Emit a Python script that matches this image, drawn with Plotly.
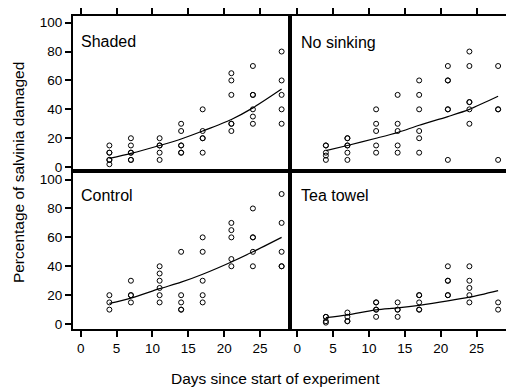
import plotly.graph_objects as go

# ---------------- data ----------------
shaded_day = [4]*6 + [7]*6 + [11]*5 + [14]*6 + [17]*5 + [21]*6 + [24]*6 + [28]*5
shaded_pct = [15, 10, 10, 5, 5, 2,
              20, 15, 10, 10, 5, 5,
              20, 15, 15, 10, 5,
              30, 25, 15, 15, 10, 10,
              40, 25, 20, 20, 10,
              65, 60, 50, 30, 30, 25,
              70, 50, 50, 40, 35, 30,
              80, 60, 50, 40, 30]

nosink_day = [4]*5 + [7]*6 + [11]*5 + [14]*5 + [17]*6 + [21]*6 + [24]*6 + [28]*4
nosink_pct = [15, 15, 10, 8, 5,
              20, 20, 15, 15, 10, 5,
              40, 30, 25, 15, 10,
              50, 30, 25, 15, 10,
              60, 50, 40, 25, 20, 10,
              70, 60, 60, 40, 40, 5,
              80, 70, 45, 45, 40, 30,
              70, 40, 40, 5]

control_day = [4]*3 + [7]*4 + [11]*6 + [14]*5 + [17]*5 + [21]*5 + [24]*5 + [28]*5
control_pct = [20, 15, 10,
               30, 20, 20, 15,
               40, 35, 30, 25, 20, 15,
               50, 20, 15, 10, 10,
               60, 50, 30, 20, 15,
               70, 65, 60, 45, 40,
               80, 60, 60, 50, 40,
               90, 70, 50, 40, 40]

tea_day = [4]*4 + [7]*4 + [11]*5 + [14]*4 + [17]*5 + [21]*5 + [24]*5 + [28]*2
tea_pct = [5, 5, 2, 1,
           8, 5, 2, 2,
           15, 15, 10, 10, 5,
           15, 10, 10, 5,
           20, 20, 15, 10, 10,
           40, 30, 30, 20, 20,
           40, 30, 25, 20, 15,
           15, 10]

fit_days = [4, 7, 11, 14, 17, 21, 24, 28]
shaded_fit = [6, 9.5, 15, 19.5, 25, 33, 41, 54]
nosink_fit = [11.4, 15, 20, 24, 29, 35, 40, 49]
control_fit = [14.3, 18, 24.5, 29, 34.5, 43, 50, 60]
tea_fit = [4.5, 6.4, 9.8, 11.2, 13, 16, 18.6, 23.2]

panel_names = ["Shaded", "No sinking", "Control", "Tea towel"]
x_ticks = [0, 5, 10, 15, 20, 25]
y_ticks = [0, 20, 40, 60, 80, 100]

# ---------------- figure ----------------
FONT = "Liberation Sans, Arial, Helvetica, sans-serif"
W, H = 506, 380
ML, MR, MT, MB = 65, 7, 2, 59
PW, PH = W - ML - MR, H - MT - MB

fig = go.Figure()

panels = [
    (shaded_day, shaded_pct, shaded_fit, "x3", "y3"),
    (nosink_day, nosink_pct, nosink_fit, "x4", "y4"),
    (control_day, control_pct, control_fit, "x", "y"),
    (tea_day, tea_pct, tea_fit, "x2", "y2"),
]
for d, p, f, xa, ya in panels:
    fig.add_trace(go.Scatter(x=d, y=p, mode="markers", xaxis=xa, yaxis=ya,
                             marker=dict(symbol="circle-open", size=5, color="black",
                                         line=dict(width=1, color="black")),
                             showlegend=False, hoverinfo="skip"))
    fig.add_trace(go.Scatter(x=fit_days, y=f, mode="lines", xaxis=xa, yaxis=ya,
                             line=dict(color="black", width=1.2, shape="spline", smoothing=0.8),
                             showlegend=False, hoverinfo="skip"))

split = 161 / PH
xr = [-1.07, 29.1]
yr_top = [-2.7, 104.6]
yr_bot = [-3.4, 105.9]

common = dict(showline=True, mirror=True, linecolor="black", linewidth=2,
              ticks="outside", ticklen=6, tickwidth=1.5, tickcolor="black",
              showgrid=False, zeroline=False,
              tickfont=dict(family=FONT, size=13.5, color="black"))

fig.update_layout(
    width=W, height=H,
    margin=dict(l=ML, r=MR, t=MT, b=MB),
    paper_bgcolor="white", plot_bgcolor="white",
    xaxis=dict(domain=[0, 0.5], anchor="y", range=xr, tickvals=x_ticks, **common),
    yaxis=dict(domain=[0, split], anchor="x", range=yr_bot, tickvals=y_ticks, **common),
    xaxis2=dict(domain=[0.5, 1], anchor="y2", range=xr, tickvals=x_ticks, **common),
    yaxis2=dict(domain=[0, split], anchor="x2", range=yr_bot, tickvals=y_ticks,
                side="right", showticklabels=False, **common),
    xaxis3=dict(domain=[0, 0.5], anchor="y3", range=xr, tickvals=x_ticks,
                side="top", showticklabels=False, **common),
    yaxis3=dict(domain=[split, 1], anchor="x3", range=yr_top, tickvals=y_ticks, **common),
    xaxis4=dict(domain=[0.5, 1], anchor="y4", range=xr, tickvals=x_ticks,
                side="top", showticklabels=False, **common),
    yaxis4=dict(domain=[split, 1], anchor="x4", range=yr_top, tickvals=y_ticks,
                side="right", showticklabels=False, **common),
    shapes=[
        dict(type="line", xref="paper", yref="paper", x0=0.5, x1=0.5, y0=0, y1=1,
             line=dict(color="black", width=3)),
        dict(type="line", xref="paper", yref="paper", x0=0, x1=1, y0=split, y1=split,
             line=dict(color="black", width=3)),
    ],
)

label_pos = [("x3", "y3", 0.026, 0.837), ("x4", "y4", 0.046, 0.831),
             ("x", "y", 0.026, 0.847), ("x2", "y2", 0.042, 0.843)]
for name, (xa, ya, lx, ly) in zip(panel_names, label_pos):
    fig.add_annotation(text=name, xref=xa + " domain", yref=ya + " domain",
                       x=lx, y=ly, xanchor="left", yanchor="middle", showarrow=False,
                       font=dict(family=FONT, size=16, color="black"))

fig.add_annotation(text="Percentage of salvinia damaged", xref="paper", yref="paper",
                   x=(11 - ML) / PW, y=(MT + PH - 162) / PH, xanchor="center", yanchor="middle",
                   textangle=-90, showarrow=False,
                   font=dict(family=FONT, size=15.5, color="black"))
fig.add_annotation(text="Days since start of experiment", xref="paper", yref="paper",
                   x=(267.5 - ML) / PW, y=(MT + PH - 371) / PH, xanchor="center", yanchor="middle",
                   showarrow=False, font=dict(family=FONT, size=15.5, color="black"))

fig.write_html("out.html")
